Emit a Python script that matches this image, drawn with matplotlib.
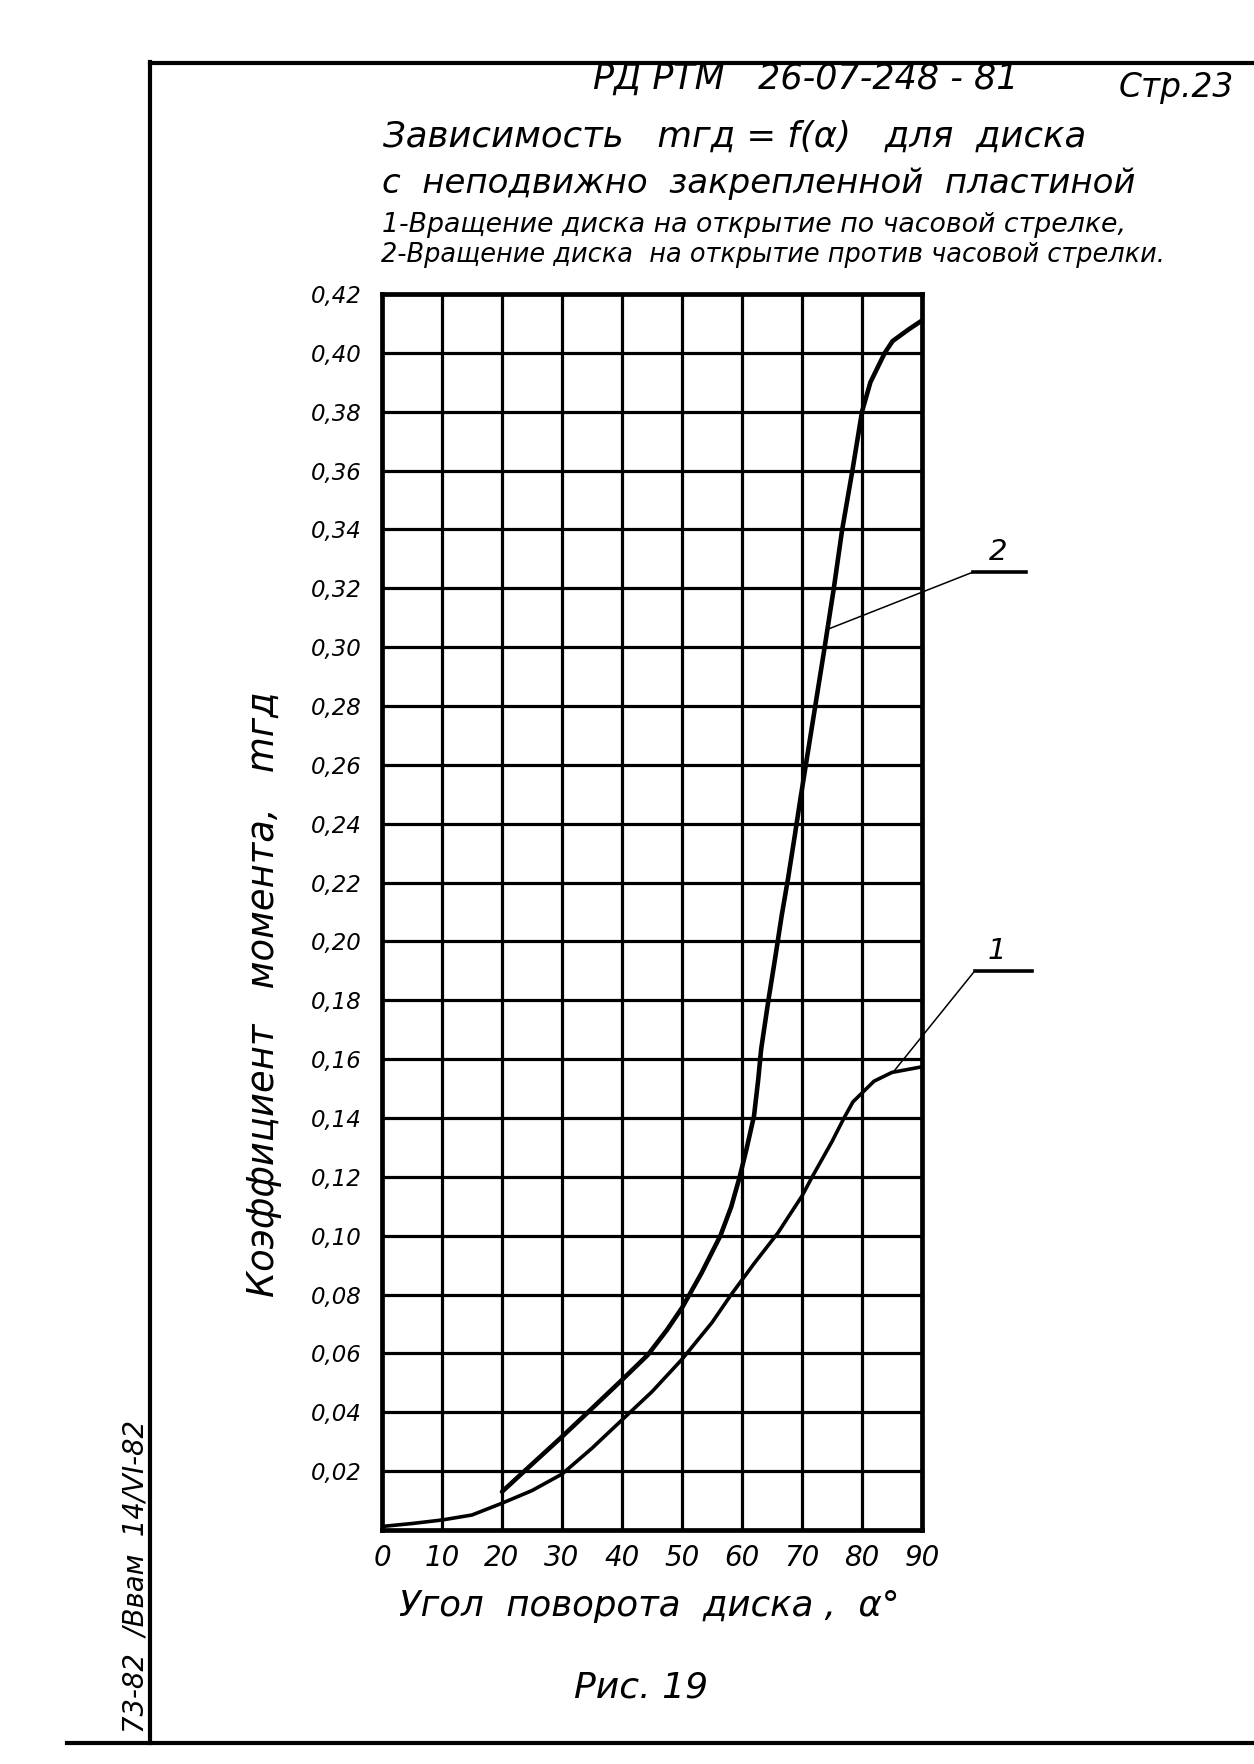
import matplotlib
matplotlib.use('Agg')
import matplotlib.pyplot as plt
from matplotlib.lines import Line2D

# ---------------- data ----------------
x_ticks = [0, 10, 20, 30, 40, 50, 60, 70, 80, 90]
x_tick_labels = ['0', '10', '20', '30', '40', '50', '60', '70', '80', '90']
y_ticks = [0.02, 0.04, 0.06, 0.08, 0.10, 0.12, 0.14, 0.16, 0.18, 0.20, 0.22,
           0.24, 0.26, 0.28, 0.30, 0.32, 0.34, 0.36, 0.38, 0.40, 0.42]
y_tick_labels = ['0,02', '0,04', '0,06', '0,08', '0,10', '0,12', '0,14', '0,16',
                 '0,18', '0,20', '0,22', '0,24', '0,26', '0,28', '0,30', '0,32',
                 '0,34', '0,36', '0,38', '0,40', '0,42']

# curve 1 - rotation clockwise
c1_x = [0, 5, 10, 15, 20, 25, 30, 35, 40, 45, 50, 55, 58.2, 62, 66, 70, 71.7,
        75, 77, 78.5, 80, 82, 85, 90]
c1_y = [0.0012, 0.0022, 0.0034, 0.0051, 0.0091, 0.0134, 0.0190, 0.0278, 0.0374,
        0.0470, 0.0580, 0.0705, 0.0800, 0.0905, 0.1010, 0.1135, 0.1200, 0.1320,
        0.1400, 0.1455, 0.1485, 0.1525, 0.1555, 0.1574]

# curve 2 - rotation counter-clockwise
c2_x = [20, 23.2, 30, 33.8, 40, 44.3, 47.5, 50, 53.2, 56.4, 58.2, 59.6, 60.7, 62,
        62.7, 63.2, 64.4, 65.5, 66.6, 67.7, 68.8, 69.7, 73.7, 75.3, 76.7, 78.4,
        80, 81.4, 83.8, 85.1, 87.8, 90]
c2_y = [0.013, 0.019, 0.0317, 0.039, 0.051, 0.0595, 0.068, 0.0755, 0.0871, 0.100,
        0.1098, 0.1199, 0.129, 0.1407, 0.153, 0.1635, 0.180, 0.194, 0.2086, 0.2217,
        0.236, 0.248, 0.299, 0.320, 0.340, 0.360, 0.380, 0.390, 0.400, 0.404,
        0.408, 0.411]

curve_labels = ['1', '2']

# ---------------- figure ----------------
W, H = 1254, 1764
plt.rcParams['font.family'] = ['DejaVu Sans']
fig = plt.figure(figsize=(W / 100, H / 100), dpi=100)
fig.patch.set_facecolor('white')
renderer = fig.canvas.get_renderer()

ax = fig.add_axes([382 / W, 1 - 1530 / H, 540 / W, 1236 / H])
ax.set_xlim(0, 90)
ax.set_ylim(0, 0.42)
ax.set_xticks(x_ticks)
ax.set_xticklabels(x_tick_labels)
ax.set_yticks(y_ticks)
ax.set_yticklabels(y_tick_labels)
ax.grid(True, color='black', lw=2.3)
for sp in ax.spines.values():
    sp.set_linewidth(3.4)
    sp.set_color('black')
ax.tick_params(axis='both', length=0)
ax.tick_params(axis='y', pad=15, labelsize=16.5)
ax.tick_params(axis='x', pad=10, labelsize=20)
for lbl in ax.get_xticklabels() + ax.get_yticklabels():
    lbl.set_fontstyle('italic')

ax.plot(c1_x, c1_y, color='black', lw=2.6, solid_joinstyle='round',
        solid_capstyle='round', zorder=5)
ax.plot(c2_x, c2_y, color='black', lw=3.3, solid_joinstyle='round',
        solid_capstyle='round', zorder=5)

# leader lines with labels
ax.plot([74.2, 98.5], [0.306, 0.3255], color='black', lw=1.1, clip_on=False)
ax.plot([98.5, 107.3], [0.3255, 0.3255], color='black', lw=2.6, clip_on=False)
ax.text(102.7, 0.3275, curve_labels[1], ha='center', va='bottom', fontsize=21,
        fontstyle='italic')
ax.plot([85.2, 98.8], [0.1556, 0.1900], color='black', lw=1.1, clip_on=False)
ax.plot([98.8, 108.3], [0.1900, 0.1900], color='black', lw=2.6, clip_on=False)
ax.text(102.5, 0.192, curve_labels[0], ha='center', va='bottom', fontsize=21,
        fontstyle='italic')


def fit_text(s, x0, x1, yc, base=20):
    t = fig.text(((x0 + x1) / 2) / W, 1 - yc / H, s, ha='center', va='center',
                 fontsize=base, fontstyle='italic')
    bb = t.get_window_extent(renderer)
    t.set_fontsize(base * (x1 - x0) / bb.width)
    return t


def fit_vtext(s, y0, y1, xc, base=20):
    t = fig.text(xc / W, 1 - ((y0 + y1) / 2) / H, s, ha='center', va='center',
                 rotation=90, fontsize=base, fontstyle='italic')
    bb = t.get_window_extent(renderer)
    t.set_fontsize(base * (y1 - y0) / bb.height)
    return t


fit_text('РД РТМ   26-07-248 - 81', 593, 1018, 79)
fit_text('Стр.23', 1119, 1234, 88)
fit_text('Зависимость   mгд = f(α)   для  диска', 382, 1087, 137)
fit_text('с  неподвижно  закрепленной  пластиной', 382, 1135, 183)
fit_text('1-Вращение диска на открытие по часовой стрелке,', 382, 1127, 225)
fit_text('2-Вращение диска  на открытие против часовой стрелки.', 382, 1164, 255)
fit_text('Угол  поворота  диска ,  α°', 399, 900, 1606)
fit_text('Рис. 19', 574, 708, 1687)
fit_vtext('Коэффициент   момента,   mгд', 692, 1297, 264)
fit_vtext('73-82  /Ввам  14/VI-82', 1420, 1733, 135)

# page frame
for (xa, xb, ya, yb, lw) in [(150, 150, 62, 1743, 3.0),
                             (150, 1254, 63, 63, 3.0),
                             (67, 1254, 1743, 1743, 3.0)]:
    fig.add_artist(Line2D([xa / W, xb / W], [1 - ya / H, 1 - yb / H],
                          transform=fig.transFigure, color='black', lw=lw))

fig.savefig('out.png', dpi=100, facecolor='white')
